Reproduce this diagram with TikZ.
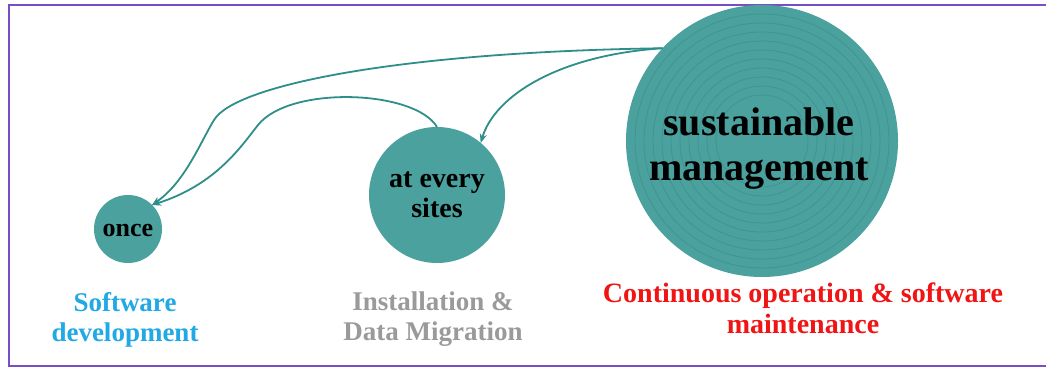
\documentclass[tikz,border=0pt]{standalone}
\usepackage{fontspec}
\setmainfont{Liberation Serif}
\usetikzlibrary{arrows.meta}
\definecolor{tealfill}{HTML}{4AA19E}
\definecolor{tealline}{HTML}{2E8E89}
\definecolor{tealring}{HTML}{3A8C89}
\definecolor{framepurple}{HTML}{7A4DC4}
\definecolor{devblue}{HTML}{20A9E4}
\definecolor{instgray}{HTML}{9A9A9A}
\definecolor{opred}{HTML}{F01414}
\tikzset{
  phase/.style={circle, fill=tealfill, inner sep=0pt, outer sep=0pt},
  intext/.style={text=black, align=center, font=\bfseries},
  caption/.style={align=center, font=\bfseries\fontsize{27}{30}\selectfont, anchor=base},
  flow/.style={draw=tealline, line width=1.8pt, -{Stealth[length=9pt,width=7pt]}},
}
\begin{document}
\begin{tikzpicture}[x=1pt,y=-1pt]
\useasboundingbox (0,0) rectangle (1046,369);
\fill[white] (0,0) rectangle (1046,369);
% frame, open on the right
\draw[framepurple, line width=2.2pt] (1046,5) -- (9,5) -- (9,366) -- (1046,366);

% the three phases
\node[phase, minimum size=272pt] (big) at (762,141) {};
\begin{scope}
  \clip (762,141) circle (134);
  \foreach \r in {46,55,...,132}
    \draw[tealring, line width=0.8pt, opacity=0.6] (762,141) circle (\r);
\end{scope}
\node[phase, minimum size=136pt] (mid) at (437,195) {};
\node[phase, minimum size=68pt] (once) at (128,229) {};

\node[intext, font=\bfseries\fontsize{40}{45}\selectfont] (bigtext) at (759,149) {sustainable\\management};
\node[intext, font=\bfseries\fontsize{28}{30}\selectfont] (midtext) at (437,195) {at every\\sites};
\node[intext, font=\bfseries\fontsize{26}{28}\selectfont] (oncetext) at (128,230) {once};

% captions (anchored at the baseline of the last line)
\node[caption, text=devblue] (dev) at (125,341) {Software\\development};
\node[caption, text=instgray] (inst) at (433,340) {Installation \&\\Data Migration};
\node[caption, text=opred, font=\bfseries\fontsize{28}{31}\selectfont] (ops) at (803,333) {Continuous operation \& software\\maintenance};

% connectors
\draw[flow] (big.137) .. controls (400,52) and (235,85) .. (214,120)
  .. controls (200,143) and (185,182) .. (once.45);
\draw[flow] (mid.north) .. controls (415,90) and (290,85) .. (258,125)
  .. controls (240,148) and (215,185) .. (once.45);
\draw[flow] (big.137) .. controls (560,55) and (495,95) .. (mid.50);
\end{tikzpicture}
\end{document}
